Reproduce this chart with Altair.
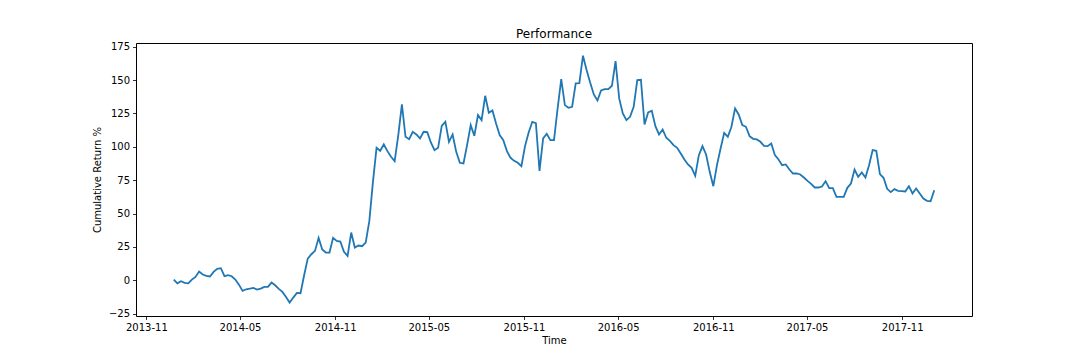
import altair as alt
import pandas as pd

start_date = "2013-12-24"
cum_return = [
    0.5, -2.3, -0.75, -2, -2.3, 0.5, 2.5, 6.5, 4.3, 3.3, 2.8, 6.3, 8.5, 9, 3, 3.75, 3, 0.5, -3.3, -8,
    -6.75, -6.3, -5.75, -7, -6.3, -5, -5, -1.75, -3.75, -6.5, -8.75, -12.5, -16.75, -13, -9.5, -9.75,
    3.75, 16.25, 19.5, 22, 31.75, 23, 20.75, 20.75,
    31.75, 29.5, 29, 21.25, 18.25, 35.75, 24.5, 26, 25.5, 28.25, 44.25, 73.75, 99.25, 97, 101.75,
    96.75, 92.5, 89.25, 108.75, 131.75, 107.5, 105.75, 111.25, 109.25, 106.25, 111.25, 111, 103.25,
    97.5, 99.25, 115.75, 118.75, 103.75, 109.25, 96.25, 88, 87.5, 101.25, 116.25, 108.25, 123.75, 120,
    138.25, 125.5, 127.25, 117.5, 108.75, 105, 96.75, 91.75, 89.5, 88, 85.5, 100.5, 110.75, 118.75,
    117.75, 82, 106.25, 109.75, 105, 105, 128.75, 150.75, 131.25, 129.25, 130, 147.5, 147.75, 168.25,
    157.5, 148, 139.25, 134.75, 142.25, 143.25, 143.25, 145.75, 164.25, 136.25, 125, 120, 122.5, 130,
    150, 150.25, 116.75, 125.75, 127, 115.5, 109.25, 113, 106.75, 104.5, 101.25, 99.25, 95, 90.5,
    86.75, 84.25, 78.25, 93.75, 100.5, 94.25, 81.25, 70.5, 86.25, 98.75, 110.5, 107.5, 115, 128.75,
    124.25, 116.25, 115, 108, 106, 105.5, 103.75, 100.75, 100.5, 102.5, 93.75, 90.5, 86.25, 86.75,
    83, 80, 80, 79.25, 77, 74.5, 72.25, 69.5, 69.5, 70.25, 74.25, 69, 69, 62.5, 62.5, 62.5, 69.25,
    72.5, 83, 77.5, 80.75, 77, 86.25, 97.5, 97, 79.5, 76.75, 68.5, 66, 68.25, 67, 66.75, 66.5, 70.5,
    65, 68.75, 65, 61.25, 59.5, 59.25, 67.5,
]
tick_dates = [(2013, 11), (2014, 5), (2014, 11), (2015, 5), (2015, 11),
              (2016, 5), (2016, 11), (2017, 5), (2017, 11)]
y_ticks = [-25, 0, 25, 50, 75, 100, 125, 150, 175]

dates = pd.date_range(start_date, periods=len(cum_return), freq="7D")
df = pd.DataFrame({"Time": dates, "ret": cum_return})

font = "DejaVu Sans"

chart = alt.Chart(df).mark_line(color="#1f77b4", strokeWidth=1.8).encode(
    x=alt.X(
        "Time:T",
        title="Time",
        scale=alt.Scale(
            domain=[alt.DateTime(year=2013, month=10, date=12),
                    alt.DateTime(year=2018, month=3, date=16)],
            nice=False,
        ),
        axis=alt.Axis(
            values=[alt.DateTime(year=y, month=m, date=1) for y, m in tick_dates],
            format="%Y-%m",
            labelAngle=0,
            titlePadding=3,
        ),
    ),
    y=alt.Y(
        "ret:Q",
        title="Cumulative Return %",
        scale=alt.Scale(domain=[-26.8, 177.8], nice=False, zero=False),
        axis=alt.Axis(values=y_ticks, titlePadding=6),
    ),
).properties(
    width=836,
    height=273,
    title=alt.TitleParams("Performance", fontSize=12, font=font, fontWeight="normal",
                          offset=-8, baseline="alphabetic", color="black"),
    autosize=alt.AutoSizeParams(type="none"),
    padding={"left": 128, "top": 35, "right": 100, "bottom": 36},
).configure_view(
    stroke="black", strokeWidth=1
).configure_axis(
    grid=False, domain=False, tickColor="black", tickSize=3.5, tickWidth=0.8,
    labelColor="black", labelFont=font, labelFontSize=10, labelPadding=3,
    titleColor="black", titleFont=font, titleFontSize=10, titleFontWeight="normal",
)

chart.save("out.html", embed_options={"renderer": "svg", "actions": False})
